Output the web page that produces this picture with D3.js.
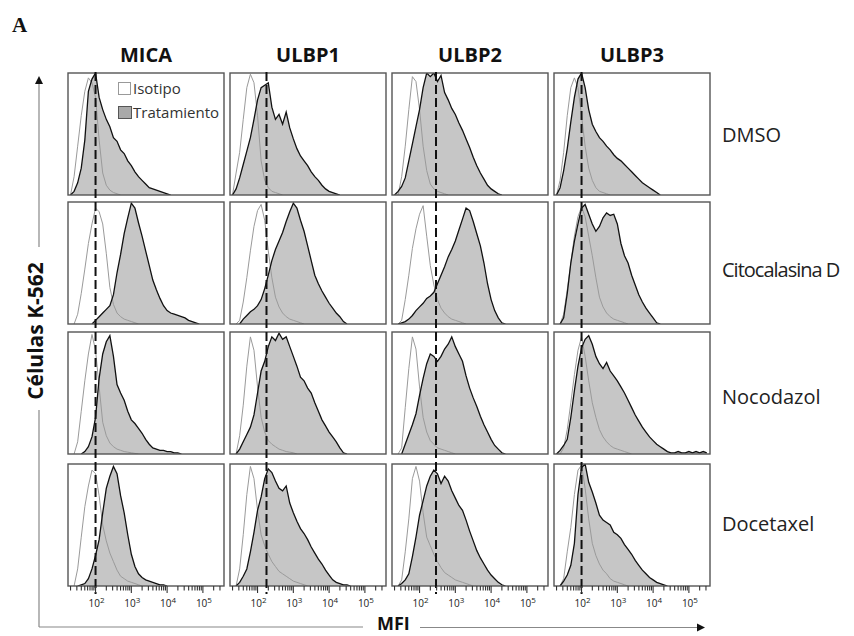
<!DOCTYPE html>
<html><head><meta charset="utf-8">
<script src="https://cdn.jsdelivr.net/npm/d3@7"></script>
<style>body{margin:0;background:#fff}svg{display:block}</style>
</head><body><svg id="c" width="854" height="636"></svg>
<script>
// ---------- data ----------
const markers = ["MICA", "ULBP1", "ULBP2", "ULBP3"];
const treatments = ["DMSO", "Citocalasina D", "Nocodazol", "Docetaxel"];
const legendLabels = ["Isotipo", "Tratamiento"];
const yTitle = "Células K-562";
const xTitle = "MFI";
const panelTag = "A";
// histogram bins (log10 of fluorescence)
const binExp = [1.3,1.4,1.5,1.6,1.7,1.8,1.9,2.0,2.1,2.2,2.3,2.4,2.5,2.6,2.7,2.8,2.9,3.0,3.1,3.2,3.3,3.4,3.5,3.6,3.7,3.8,3.9,4.0,4.1,4.2,4.3,4.4,4.5,4.6,4.7,4.8,4.9,5.0,5.1,5.2,5.3,5.4,5.5];
const axisRangeExp = [1.23, 5.59];
const tickDecades = [2, 3, 4, 5];
// dashed reference (isotype cut-off) per marker, log10
const cutoffExp = [2.0, 2.25, 2.46, 2.0];

// DMSO (% of max)
const micaDmsoIso  = [0,15,40,65,85,96,92,80,45,18,8,4,2,1,0];
const micaDmsoTrt  = [0,3,10,22,45,85,95,100,80,70,62,56,47,44,37,34,28,24,19,15,12,9,6,5,4,3,2,1,0];
const ulbp1DmsoIso = [0,18,35,62,88,99,92,65,28,12,6,3,2,1,0];
const ulbp1DmsoTrt = [0,5,14,25,36,47,62,78,88,90,92,72,62,66,58,68,55,46,38,32,28,24,19,15,12,8,5,3,2,1,0];
const ulbp2DmsoIso = [0,0,15,40,70,97,93,70,40,20,9,5,3,2,1,0];
const ulbp2DmsoTrt = [0,3,7,14,28,42,56,70,88,100,97,100,93,98,84,78,71,66,59,53,46,39,31,24,18,13,8,5,3,1,0];
const ulbp3DmsoIso = [0,12,35,65,88,96,88,65,40,22,12,6,3,2,1,0];
const ulbp3DmsoTrt = [0,6,20,38,60,80,95,100,88,70,58,52,47,44,40,37,33,30,28,25,22,19,16,13,10,8,6,4,2,0];
// Citocalasina D
const micaCitoIso  = [0,0,8,25,45,66,82,95,92,82,58,30,16,9,6,4,3,2,1,0];
const micaCitoTrt  = [0,0,0,0,0,0,0,3,6,9,12,15,24,42,57,74,87,99,95,83,72,60,48,36,28,21,15,11,9,8,7,6,5,3,2,1,0];
const ulbp1CitoIso = [0,0,3,18,38,60,80,93,98,85,60,38,22,14,9,6,4,3,2,1,0];
const ulbp1CitoTrt = [0,0,0,4,7,10,12,15,20,29,40,52,61,68,75,84,92,99,95,85,76,64,52,40,33,27,22,17,13,9,6,2,0];
const ulbp2CitoIso = [0,0,3,20,40,62,78,90,97,72,48,32,20,13,9,6,4,3,2,1,0];
const ulbp2CitoTrt = [0,0,1,2,4,7,11,14,17,21,23,26,33,40,47,55,61,68,77,86,95,93,84,74,64,50,33,20,11,5,1,0];
const ulbp3CitoIso = [0,0,8,28,50,72,88,96,88,72,56,38,22,14,9,6,4,3,2,1,0];
const ulbp3CitoTrt = [0,0,5,25,50,68,82,95,98,90,82,76,80,87,91,89,90,82,66,56,50,40,32,24,18,13,9,5,1,0];
// Nocodazol
const micaNocoIso  = [0,0,10,35,60,82,98,85,55,26,15,9,6,4,3,2,1.5,1,0.5,0];
const micaNocoTrt  = [0,0,0,0,2,6,14,30,62,82,92,97,80,57,50,44,35,28,25,21,17,12,8,5,4,3,3,2,2,1,1,0];
const ulbp1NocoIso = [0,0,15,40,72,96,85,55,30,18,11,8,6,4,3,2,1.5,1,0];
const ulbp1NocoTrt = [0,0,4,10,16,22,32,50,68,76,88,96,93,99,94,96,88,80,72,63,60,54,50,42,35,28,23,18,14,10,5,1,0];
const ulbp2NocoIso = [0,0,5,38,70,96,86,55,30,18,11,8,5,4,3,2,1,0];
const ulbp2NocoTrt = [0,0,0,8,16,24,33,48,62,74,82,80,76,80,86,90,96,88,82,76,64,54,46,39,31,24,18,12,7,4,1,0];
const ulbp3NocoIso = [0,0,5,20,42,65,85,96,80,60,42,30,20,14,10,7,5,4,3,2,1,0];
const ulbp3NocoTrt = [0,3,7,12,30,52,72,87,94,97,90,80,74,70,75,68,64,60,55,50,44,38,32,27,22,18,14,11,8,6,4,2,1,1,2,1,1,2,1,2,1,2,1];
// Docetaxel
const micaDoceIso  = [0,0,14,40,65,82,95,92,74,50,37,27,20,13,8,6,4,3,2,1,0];
const micaDoceTrt  = [0,0,0,1,2,6,14,25,38,60,80,90,98,92,74,60,42,26,16,10,7,5,4,3,2,1,1,0];
const ulbp1DoceIso = [0,0,14,42,75,98,88,62,42,33,26,20,16,12,10,8,6,4,3,2,1,0];
const ulbp1DoceTrt = [0,0,3,8,14,28,44,62,73,88,96,93,86,80,78,82,68,60,53,47,43,38,32,27,22,18,13,9,5,3,2,1,1,0];
const ulbp2DoceIso = [0,0,5,28,55,88,98,86,60,40,33,26,20,15,11,9,7,5,4,3,2,1,0];
const ulbp2DoceTrt = [0,0,2,5,10,24,40,58,70,82,90,95,92,84,90,86,78,72,66,62,54,45,37,29,23,18,13,9,6,3,1,0];
const ulbp3DoceIso = [0,0,6,28,48,75,95,99,80,55,35,25,18,13,10,6,4,3,2,1,0];
const ulbp3DoceTrt = [0,0,4,9,17,35,75,97,100,85,77,68,58,54,52,50,44,42,39,34,30,26,21,17,13,10,7,5,3,2,1,0];

const isoRows = [
  [micaDmsoIso, ulbp1DmsoIso, ulbp2DmsoIso, ulbp3DmsoIso],
  [micaCitoIso, ulbp1CitoIso, ulbp2CitoIso, ulbp3CitoIso],
  [micaNocoIso, ulbp1NocoIso, ulbp2NocoIso, ulbp3NocoIso],
  [micaDoceIso, ulbp1DoceIso, ulbp2DoceIso, ulbp3DoceIso]];
const trtRows = [
  [micaDmsoTrt, ulbp1DmsoTrt, ulbp2DmsoTrt, ulbp3DmsoTrt],
  [micaCitoTrt, ulbp1CitoTrt, ulbp2CitoTrt, ulbp3CitoTrt],
  [micaNocoTrt, ulbp1NocoTrt, ulbp2NocoTrt, ulbp3NocoTrt],
  [micaDoceTrt, ulbp1DoceTrt, ulbp2DoceTrt, ulbp3DoceTrt]];

// ---------- layout ----------
const svg = d3.select("#c");
const W = 156, H = 122;
const colX = [68, 230, 392, 554];
const rowY = [73, 202, 332, 464];
const rowLabelY = [142, 277, 404, 531];
const FONT = "'Open Sans', 'Noto Sans', sans-serif";

const x = d3.scaleLog().domain(axisRangeExp.map(e => Math.pow(10, e))).range([0, W]);
const y = d3.scaleLinear().domain([0, 100]).range([H, 0]);

function toPts(arr) {
  let p = arr.map((v, i) => [Math.pow(10, binExp[i]), v]);
  const first = p.findIndex(d => d[1] > 0);
  if (first > 0) p = p.slice(first - 1);
  return p;
}
const area = d3.area().x(d => x(d[0])).y0(H).y1(d => y(d[1]));
const line = d3.line().x(d => x(d[0])).y(d => y(d[1]));

const defs = svg.append("defs");
defs.append("clipPath").attr("id", "pclip").append("rect").attr("width", W).attr("height", H);

treatments.forEach((t, r) => {
  markers.forEach((m, c) => {
    const g = svg.append("g").attr("transform", `translate(${colX[c]},${rowY[r]})`);
    const inner = g.append("g").attr("clip-path", "url(#pclip)");
    const tp = toPts(trtRows[r][c]);
    const ip = toPts(isoRows[r][c]);
    inner.append("path").attr("d", area(tp)).attr("fill", "#c6c6c6");
    inner.append("path").attr("d", line(ip)).attr("fill", "none").attr("stroke", "#9a9a9a").attr("stroke-width", 1);
    inner.append("path").attr("d", line(tp)).attr("fill", "none").attr("stroke", "#111").attr("stroke-width", 1.3);
    g.append("rect").attr("width", W).attr("height", H).attr("fill", "none")
      .attr("stroke", "#555").attr("stroke-width", 1.4);
  });
});

// dashed cut-off lines per column
markers.forEach((m, c) => {
  const xx = colX[c] + x(Math.pow(10, cutoffExp[c]));
  svg.append("line").attr("x1", xx).attr("x2", xx).attr("y1", 72).attr("y2", 594)
    .attr("stroke", "#111").attr("stroke-width", 2).attr("stroke-dasharray", "9,4");
});

// column titles
markers.forEach((m, c) => {
  svg.append("text").attr("x", colX[c] + W / 2).attr("y", 62).attr("text-anchor", "middle")
    .attr("font-family", FONT).attr("font-weight", "bold").attr("font-size", 20).attr("fill", "#111").text(m);
});
// row labels
treatments.forEach((t, r) => {
  svg.append("text").attr("x", 722).attr("y", rowLabelY[r])
    .attr("font-family", FONT).attr("font-size", 20).attr("fill", "#222")
    .attr("letter-spacing", t.length > 10 ? -1 : 0).text(t);
});

// bottom log axes
markers.forEach((m, c) => {
  const g = svg.append("g").attr("transform", `translate(${colX[c]},${rowY[3] + H})`);
  const tv = x.ticks();
  g.selectAll("line.t").data(tv).enter().append("line")
    .attr("x1", d => x(d)).attr("x2", d => x(d)).attr("y1", 0)
    .attr("y2", d => Number.isInteger(Math.round(Math.log10(d) * 1000) / 1000) ? 7 : 4.5)
    .attr("stroke", "#333").attr("stroke-width", 1.1);
  tickDecades.forEach(dcd => {
    const tx = g.append("text").attr("x", x(Math.pow(10, dcd)) + 1).attr("y", 21)
      .attr("text-anchor", "middle").attr("font-family", FONT).attr("font-size", 10).attr("fill", "#222");
    tx.append("tspan").text("10");
    tx.append("tspan").attr("dy", -4).attr("font-size", 8).text(String(dcd));
  });
});

// legend
const lg = svg.append("g");
lg.append("rect").attr("x", 118.5).attr("y", 82.5).attr("width", 12).attr("height", 12)
  .attr("fill", "#fff").attr("stroke", "#999");
lg.append("text").attr("x", 133).attr("y", 93.5).attr("font-family", FONT).attr("font-size", 15)
  .attr("fill", "#333").text(legendLabels[0]);
lg.append("rect").attr("x", 118.5).attr("y", 106.5).attr("width", 13).attr("height", 12)
  .attr("fill", "#a9a9a9").attr("stroke", "#555");
lg.append("text").attr("x", 133).attr("y", 117.5).attr("font-family", FONT).attr("font-size", 15)
  .attr("fill", "#333").text(legendLabels[1]);

// axis arrows
const ax = svg.append("g").attr("stroke", "#888").attr("stroke-width", 1.2);
ax.append("line").attr("x1", 39).attr("x2", 39).attr("y1", 627).attr("y2", 410);
ax.append("line").attr("x1", 39).attr("x2", 39).attr("y1", 247).attr("y2", 83);
ax.append("line").attr("x1", 39).attr("x2", 363).attr("y1", 627).attr("y2", 627);
ax.append("line").attr("x1", 420).attr("x2", 698).attr("y1", 627.5).attr("y2", 627.5);
svg.append("path").attr("d", "M39,76 L35,84 L43,84 Z").attr("fill", "#111");
svg.append("path").attr("d", "M705,627.5 L697,623.5 L697,631.5 Z").attr("fill", "#111");

svg.append("text").attr("transform", "translate(43,331) rotate(-90)").attr("text-anchor", "middle")
  .attr("font-family", FONT).attr("font-weight", "bold").attr("font-size", 21).attr("fill", "#111").text(yTitle);
svg.append("text").attr("x", 377).attr("y", 630).attr("font-family", FONT).attr("font-weight", "bold")
  .attr("font-size", 18).attr("fill", "#111").text(xTitle);
svg.append("text").attr("x", 12).attr("y", 32).attr("font-family", "'Liberation Serif', serif")
  .attr("font-weight", "bold").attr("font-size", 21).attr("fill", "#111").text(panelTag);
</script></body></html>
